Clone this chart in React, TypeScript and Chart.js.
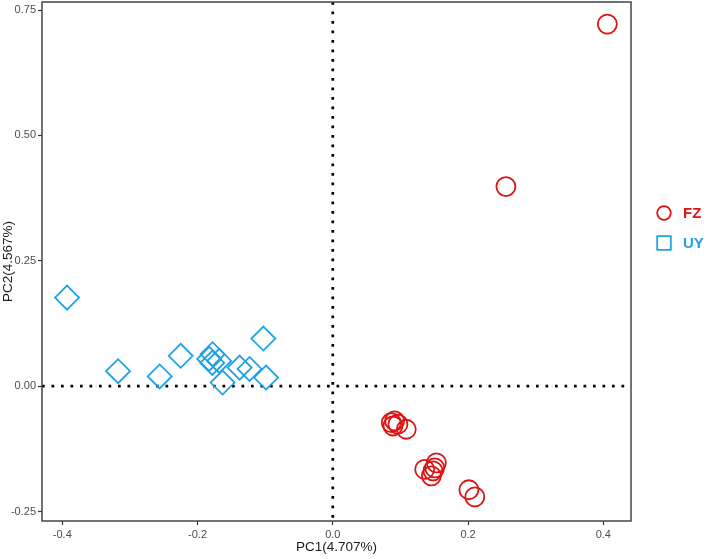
import React, { useEffect, useRef } from 'react';
import { Chart, registerables } from 'chart.js';

Chart.register(...registerables);

// ---- Data ----
const groups = ['FZ', 'UY'];
const fzX = [0.406, 0.256, 0.0865, 0.0914, 0.089, 0.0963, 0.1087, 0.1359, 0.1532, 0.1481, 0.1458, 0.1507, 0.2013, 0.21];
const fzY = [0.722, 0.398, -0.073, -0.0695, -0.0795, -0.076, -0.086, -0.166, -0.153, -0.169, -0.179, -0.163, -0.2067, -0.221];
const uyX = [-0.393, -0.3175, -0.2559, -0.2249, -0.1027, -0.1778, -0.1827, -0.1782, -0.1679, -0.163, -0.1378, -0.123, -0.0987];
const uyY = [0.1765, 0.0298, 0.0192, 0.0605, 0.0948, 0.0637, 0.0543, 0.0463, 0.0503, 0.007, 0.0369, 0.0343, 0.017];

const xTicks = [-0.4, -0.2, 0, 0.2, 0.4];
const xTickLabels = ['-0.4', '-0.2', '0.0', '0.2', '0.4'];
const yTicks = [-0.25, 0, 0.25, 0.5, 0.75];
const yTickLabels = ['-0.25', '0.00', '0.25', '0.50', '0.75'];
const xTitle = 'PC1(4.707%)';
const yTitle = 'PC2(4.567%)';
const xRange = [-0.43, 0.441];
const yRange = [-0.269, 0.766];

// ---- Styles ----
const RED = '#dc1414';
const BLUE = '#1ea2e6';
const FONT = '"Liberation Sans", Arial, Helvetica, sans-serif';

const framePlugin = {
  id: 'frameAndZero',
  beforeDatasetsDraw(chart: any) {
    const { ctx, chartArea, scales } = chart;
    const x0 = scales.x.getPixelForValue(0);
    const y0 = scales.y.getPixelForValue(0);
    ctx.save();
    ctx.strokeStyle = '#000';
    ctx.lineWidth = 2.7;
    ctx.lineCap = 'butt';
    ctx.setLineDash([2.7, 6.8]);
    ctx.beginPath();
    ctx.moveTo(x0, chartArea.top);
    ctx.lineTo(x0, chartArea.bottom);
    ctx.stroke();
    ctx.beginPath();
    ctx.moveTo(chartArea.left, y0);
    ctx.lineTo(chartArea.right, y0);
    ctx.stroke();
    ctx.restore();
  },
  afterDraw(chart: any) {
    const { ctx, chartArea } = chart;
    ctx.save();
    ctx.strokeStyle = '#444';
    ctx.lineWidth = 1.5;
    ctx.strokeRect(chartArea.left, chartArea.top, chartArea.right - chartArea.left, chartArea.bottom - chartArea.top);
    ctx.restore();
  },
};

const legendPlugin = {
  id: 'sideLegend',
  afterDraw(chart: any) {
    const { ctx, chartArea } = chart;
    const cx = chartArea.right + 33;
    const items = [
      { label: groups[0], color: RED, shape: 'circle' },
      { label: groups[1], color: BLUE, shape: 'square' },
    ];
    ctx.save();
    items.forEach((it, i) => {
      const cy = chartArea.top + 211 + i * 30;
      ctx.strokeStyle = it.color;
      ctx.lineWidth = 1.8;
      ctx.beginPath();
      if (it.shape === 'circle') ctx.arc(cx, cy, 6.8, 0, Math.PI * 2);
      else ctx.rect(cx - 6.8, cy - 6.8, 13.6, 13.6);
      ctx.stroke();
      ctx.fillStyle = it.color;
      ctx.font = 'bold 15px ' + FONT;
      ctx.textBaseline = 'middle';
      ctx.textAlign = 'left';
      ctx.fillText(it.label, cx + 19, cy + 0.5);
    });
    ctx.restore();
  },
};

export default function App() {
  const ref = useRef<HTMLCanvasElement | null>(null);

  useEffect(() => {
    if (!ref.current) return;
    const fzData = fzX.map((x, i) => ({ x, y: fzY[i] }));
    const uyData = uyX.map((x, i) => ({ x, y: uyY[i] }));
    const chart = new Chart(ref.current, {
      type: 'scatter',
      data: {
        datasets: [
          {
            label: groups[0],
            data: fzData,
            pointStyle: 'circle',
            radius: 9.5,
            hoverRadius: 9.5,
            borderWidth: 1.8,
            hoverBorderWidth: 1.8,
            borderColor: RED,
            backgroundColor: 'rgba(0,0,0,0)',
          },
          {
            label: groups[1],
            data: uyData,
            pointStyle: 'rectRot',
            radius: 12,
            hoverRadius: 12,
            borderWidth: 1.8,
            hoverBorderWidth: 1.8,
            borderColor: BLUE,
            backgroundColor: 'rgba(0,0,0,0)',
          },
        ],
      },
      options: {
        animation: false,
        responsive: false,
        events: [],
        layout: { autoPadding: false, padding: { top: 2, right: 78, left: 0, bottom: 0 } },
        plugins: {
          legend: { display: false },
          tooltip: { enabled: false },
        },
        scales: {
          x: {
            type: 'linear',
            min: xRange[0],
            max: xRange[1],
            afterBuildTicks: (scale: any) => {
              scale.ticks = xTicks.map((v) => ({ value: v }));
            },
            afterFit: (scale: any) => {
              scale.height = 38;
              scale.paddingLeft = 0;
              scale.paddingRight = 0;
            },
            grid: {
              display: true,
              drawOnChartArea: false,
              drawTicks: true,
              tickLength: 4,
              tickColor: '#333',
              tickWidth: 1.2,
              color: '#333',
            },
            border: { display: false },
            ticks: {
              autoSkip: false,
              maxRotation: 0,
              padding: 3,
              color: '#4d4d4d',
              font: { family: FONT, size: 11 },
              callback: (_v: any, i: number) => xTickLabels[i],
            },
            title: {
              display: true,
              text: xTitle,
              color: '#1a1a1a',
              font: { family: FONT, size: 13.5 },
              padding: { top: 0, bottom: 4 },
            },
          },
          y: {
            type: 'linear',
            min: yRange[0],
            max: yRange[1],
            afterBuildTicks: (scale: any) => {
              scale.ticks = yTicks.map((v) => ({ value: v }));
            },
            afterFit: (scale: any) => {
              scale.width = 42;
              scale.paddingTop = 0;
              scale.paddingBottom = 0;
            },
            grid: {
              display: true,
              drawOnChartArea: false,
              drawTicks: true,
              tickLength: 4,
              tickColor: '#333',
              tickWidth: 1.2,
              color: '#333',
            },
            border: { display: false },
            ticks: {
              autoSkip: false,
              padding: 2,
              color: '#4d4d4d',
              font: { family: FONT, size: 11 },
              callback: (_v: any, i: number) => yTickLabels[i],
            },
            title: {
              display: true,
              text: yTitle,
              color: '#1a1a1a',
              font: { family: FONT, size: 13.5 },
              padding: { top: 0, bottom: 0 },
            },
          },
        },
      },
      plugins: [framePlugin, legendPlugin],
    });
    return () => chart.destroy();
  }, []);

  return (
    <div style={{ position: 'fixed', left: 0, top: 0, width: 709, height: 559, background: '#fff' }}>
      <canvas ref={ref} width={709} height={559} style={{ display: 'block' }} />
    </div>
  );
}
